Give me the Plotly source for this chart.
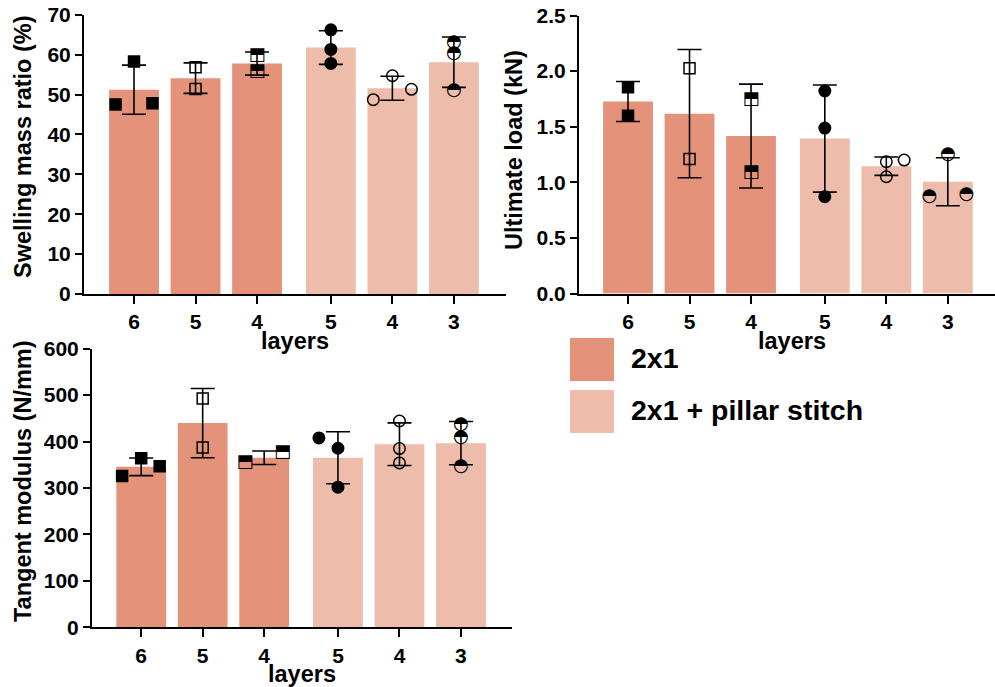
import numpy as np
import plotly.graph_objects as go

# ---------------- data ----------------
tick_labels = ["6", "5", "4", "5", "4", "3"]
groups = ["2x1", "2x1", "2x1", "2x1 + pillar stitch", "2x1 + pillar stitch", "2x1 + pillar stitch"]

swelling = [[47.5, 58.3, 47.8], [56.8, 51.4], [59.8, 55.7],
            [66.2, 61.3, 57.8], [48.7, 54.7, 51.3], [63.1, 60.2, 51.0]]
load = [[1.854, 1.599], [2.025, 1.21], [1.746, 1.086],
        [1.821, 1.488, 0.871], [1.185, 1.05, 1.20], [0.871, 1.254, 0.889]]
modulus = [[326, 364, 347], [492.5, 387], [354.8, 375.5],
           [407.8, 385.6, 301.7], [444.3, 385, 354], [436.6, 407.8, 345.4]]

# horizontal scatter dodge of the individual points (style)
swelling_dodge = [[-0.3, 0, 0.3], [0, 0], [0, 0], [0, 0, 0], [-0.31, 0, 0.31], [0, 0, 0]]
load_dodge = [[0, 0], [0, 0], [0, 0], [0, 0, 0], [0, 0, 0.29], [-0.3, 0, 0.3]]
modulus_dodge = [[-0.31, 0, 0.3], [0, 0], [-0.31, 0.3], [-0.31, 0, 0], [0, 0, 0], [0, 0, 0]]

# ---------------- style ----------------
COL = {"2x1": "#E4937A", "2x1 + pillar stitch": "#EDBCAB"}
FONT = "Liberation Sans, Arial, sans-serif"
GROUP_GAP = 0.2
BAR_W = 0.81
xpos = [i + (GROUP_GAP if i >= 3 else 0) for i in range(len(tick_labels))]

# marker styles per bar: (kind, symbol/glyph, size)
MK = [("marker", "square", 11), ("marker", "square-open", 11), ("text", "\u2B12", 18),
      ("marker", "circle", 11.5), ("marker", "circle-open", 11.5), ("text", "\u25D3", 18)]

fig = go.Figure()

panels = [
    dict(data=swelling, dodge=swelling_dodge, xa="x", ya="y", yr=[0, 70], dt=10,
         xd=[84/995, 506/995], yd=[1-294/687, 1-14.7/687], xr=[-0.813, 6.047],
         title="Swelling mass ratio (%)", tx=23, ty=147, lx=295, ly=341, fmt=None),
    dict(data=load, dodge=load_dodge, xa="x2", ya="y2", yr=[0, 2.5], dt=0.5,
         xd=[579/995, 1.0], yd=[1-293.5/687, 1-15.5/687], xr=[-0.797, 5.967],
         title="Ultimate load (kN)", tx=514, ty=150, lx=792, ly=341, fmt=".1f"),
    dict(data=modulus, dodge=modulus_dodge, xa="x3", ya="y3", yr=[0, 600], dt=100,
         xd=[92/995, 512/995], yd=[1-627.3/687, 1-348.7/687], xr=[-0.80, 6.03],
         title="Tangent modulus (N/mm)", tx=23, ty=481, lx=302, ly=674, fmt=None),
]

annotations = []
for p in panels:
    means = [float(np.mean(v)) for v in p["data"]]
    sds = [float(np.std(v, ddof=1)) for v in p["data"]]
    fig.add_trace(go.Bar(
        x=xpos, y=means, width=BAR_W, xaxis=p["xa"], yaxis=p["ya"],
        marker=dict(color=[COL[g] for g in groups], line=dict(width=0)),
        error_y=dict(type="data", array=sds, visible=True, color="black",
                     thickness=1.6, width=12),
        showlegend=False, hoverinfo="skip"))
    for i, vals in enumerate(p["data"]):
        xs = [xpos[i] + d for d in p["dodge"][i]]
        kind, sym, sz = MK[i]
        if kind == "marker":
            fig.add_trace(go.Scatter(
                x=xs, y=vals, mode="markers", xaxis=p["xa"], yaxis=p["ya"],
                marker=dict(symbol=sym, size=sz, color="black",
                            line=dict(color="black", width=1.5)),
                showlegend=False, hoverinfo="skip"))
        else:
            fig.add_trace(go.Scatter(
                x=xs, y=vals, mode="text", text=[sym] * len(vals),
                textposition="middle center", xaxis=p["xa"], yaxis=p["ya"],
                textfont=dict(family="DejaVu Sans", size=sz, color="black"),
                showlegend=False, hoverinfo="skip"))
    axn = p["xa"].replace("x", "xaxis")
    ayn = p["ya"].replace("y", "yaxis")
    fig.layout[axn] = dict(
        domain=p["xd"], range=p["xr"], anchor=p["ya"], tickmode="array",
        tickvals=xpos, ticktext=tick_labels, showline=True, linewidth=2,
        linecolor="black", ticks="outside", ticklen=8, tickwidth=2,
        tickcolor="black", showgrid=False, zeroline=False, automargin=False,
        tickfont=dict(family=FONT, size=21, color="black", weight="bold"))
    fig.layout[ayn] = dict(
        domain=p["yd"], range=p["yr"], anchor=p["xa"], tick0=0, dtick=p["dt"],
        tickformat=p["fmt"], showline=True, linewidth=2, linecolor="black",
        ticks="outside", ticklen=7, tickwidth=2, tickcolor="black",
        showgrid=False, zeroline=False, automargin=False,
        tickfont=dict(family=FONT, size=21, color="black", weight="bold"))
    annotations.append(dict(
        text=p["title"], xref="paper", yref="paper", x=p["tx"]/995, y=1-p["ty"]/687,
        textangle=-90, showarrow=False, xanchor="center", yanchor="middle",
        font=dict(family=FONT, size=23.5, color="black", weight="bold")))
    annotations.append(dict(
        text="layers", xref="paper", yref="paper", x=p["lx"]/995, y=1-p["ly"]/687,
        showarrow=False, xanchor="center", yanchor="middle",
        font=dict(family=FONT, size=23.5, color="black", weight="bold")))

# legend (drawn manually: large swatches)
shapes = []
legend_items = ["2x1", "2x1 + pillar stitch"]
for k, name in enumerate(legend_items):
    top = 338 + k * 52
    shapes.append(dict(type="rect", xref="paper", yref="paper",
                       x0=570/995, x1=614/995, y0=1-(top+43)/687, y1=1-top/687,
                       fillcolor=COL[name], line=dict(width=0), layer="above"))
    annotations.append(dict(
        text=name, xref="paper", yref="paper", x=629/995, y=1-(top+20)/687,
        showarrow=False, xanchor="left", yanchor="middle",
        font=dict(family=FONT, size=28.5, color="black", weight="bold")))

fig.update_layout(width=995, height=687, margin=dict(l=0, r=0, t=0, b=0, autoexpand=False),
                  plot_bgcolor="white", paper_bgcolor="white", showlegend=False,
                  barmode="overlay", annotations=annotations, shapes=shapes)

fig.write_html("out.html", config={"displayModeBar": False},
               post_script="document.body.style.margin='0';document.body.style.overflow='hidden';")
